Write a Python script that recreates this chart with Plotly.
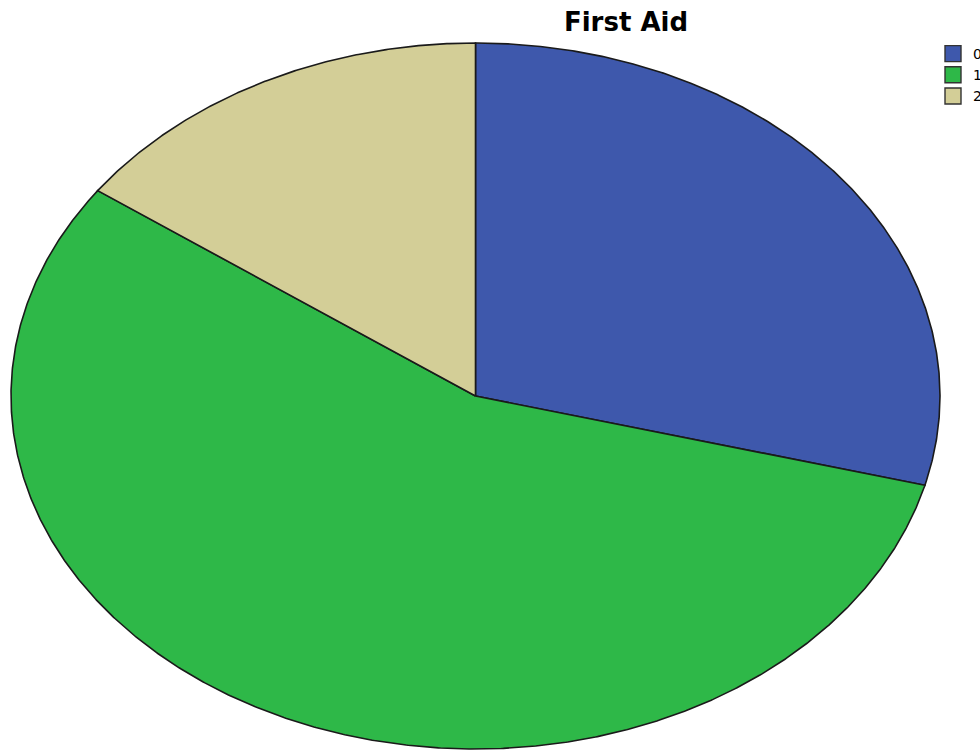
import numpy as np
import plotly.graph_objects as go

# First Aid responses
categories = ["0", "1", "2"]
counts = [25, 48, 13]
colors = ["#3E58AC", "#2EB848", "#D3CE97"]

W, H = 980, 750
# ellipse geometry in pixel space (x right, y down)
cx, cy = 475.5, 396.0
rx, ry = 464.5, 353.0

fig = go.Figure()

total = float(sum(counts))
start = 0.0
for cat, val, col in zip(categories, counts, colors):
    sweep = 360.0 * val / total
    theta = np.radians(np.linspace(start, start + sweep, max(int(sweep * 4), 8)))
    xs = np.concatenate([[cx], cx + rx * np.sin(theta), [cx]])
    ys = np.concatenate([[cy], cy - ry * np.cos(theta), [cy]])
    fig.add_trace(go.Scatter(
        x=xs, y=ys, mode="lines", fill="toself", fillcolor=col,
        line=dict(color="#1a1a1a", width=1.6), hoverinfo="skip",
        showlegend=False,
    ))
    start += sweep

# legend entries
for cat, col in zip(categories, colors):
    fig.add_trace(go.Scatter(
        x=[None], y=[None], mode="markers", name=cat,
        marker=dict(symbol="square", size=17, color=col,
                    line=dict(color="#333333", width=1.4)),
    ))

fig.update_layout(
    width=W, height=H,
    margin=dict(l=0, r=0, t=0, b=0, autoexpand=False),
    paper_bgcolor="white", plot_bgcolor="white",
    xaxis=dict(range=[0, W], domain=[0, 1], visible=False, fixedrange=True),
    yaxis=dict(range=[H, 0], domain=[0, 1], visible=False, fixedrange=True),
    title=dict(text="<b>First Aid</b>", x=626 / W, xanchor="center",
               y=1 - 22 / H, yanchor="middle",
               font=dict(family="DejaVu Sans", size=26, color="black")),
    legend=dict(x=933 / W, xanchor="left", y=1 - 38 / H, yanchor="top",
                font=dict(family="DejaVu Sans", size=14, color="black"),
                bgcolor="rgba(0,0,0,0)", tracegroupgap=0, itemsizing="trace"),
    showlegend=True,
)

fig.write_html("out.html")
